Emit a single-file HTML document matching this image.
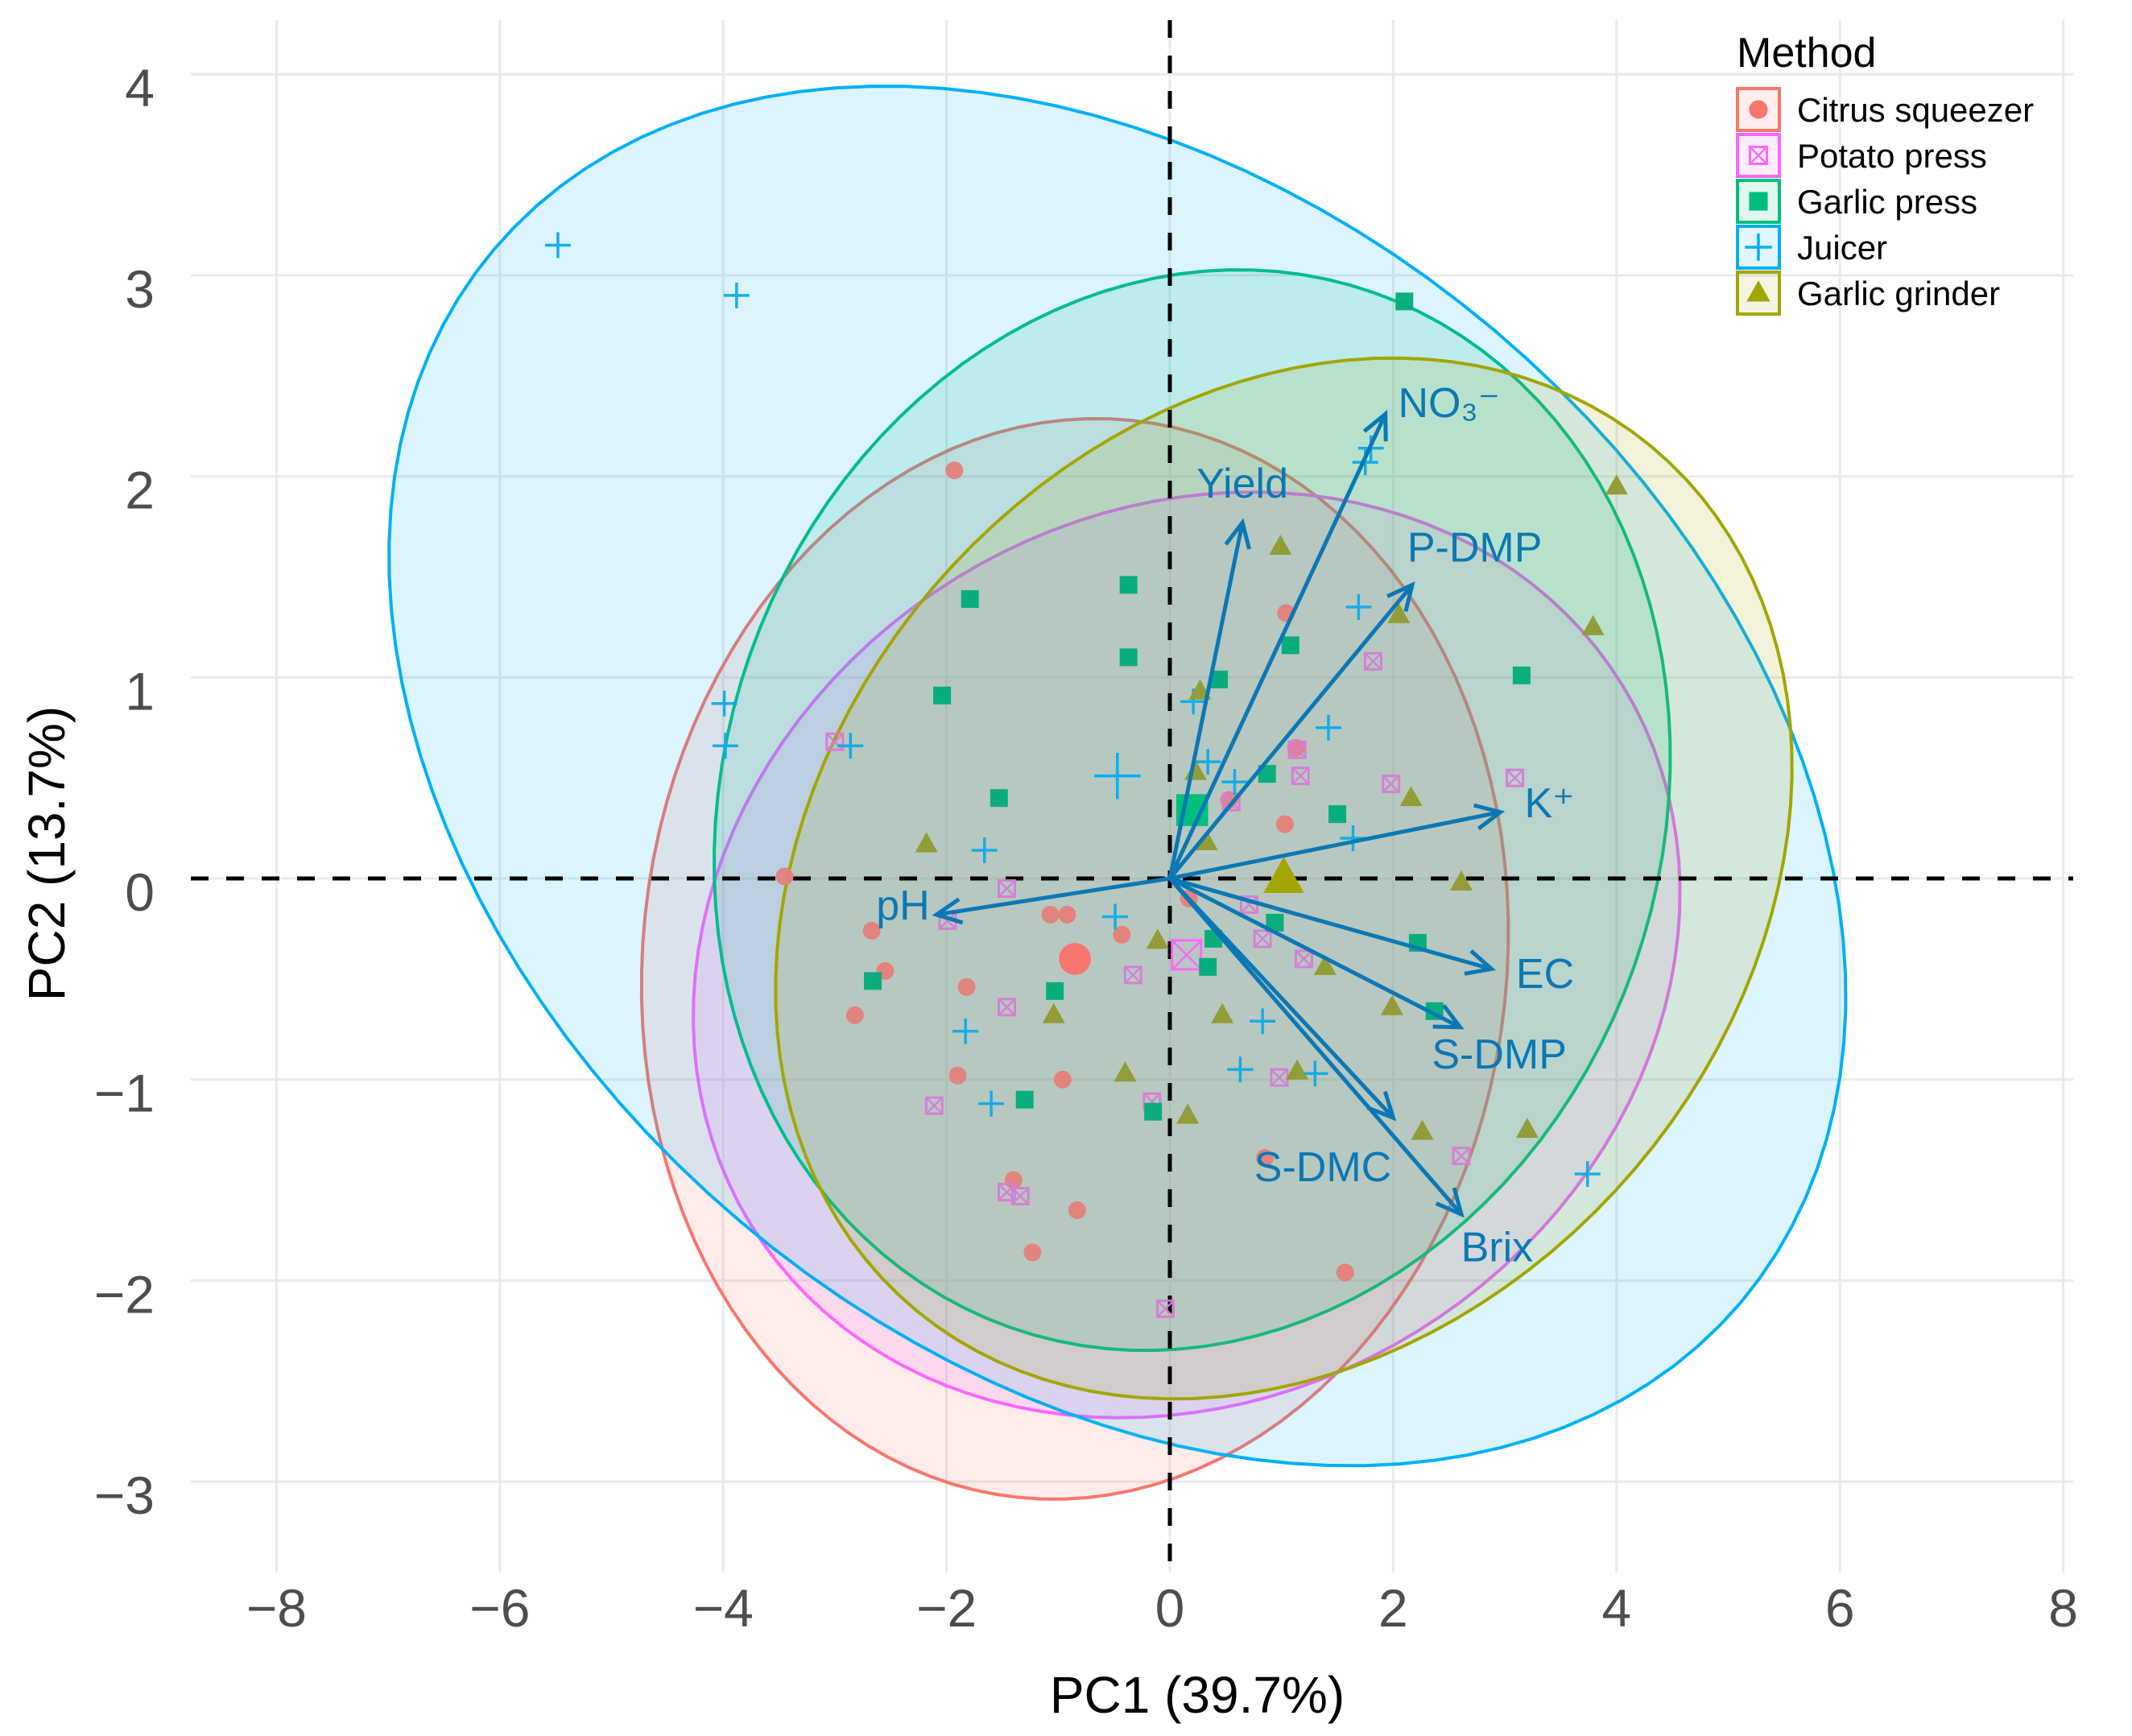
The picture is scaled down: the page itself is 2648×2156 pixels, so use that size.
<!DOCTYPE html>
<html><head><meta charset="utf-8"><style>
html,body{margin:0;padding:0;background:#fff}
svg{display:block;font-family:"Liberation Sans",Arial,sans-serif}
</style></head><body>
<svg id="chart" width="2648" height="2156" viewBox="0 0 2648 2156" xmlns="http://www.w3.org/2000/svg">
<g id="grid"></g>
<g id="ellipses"></g>
<g id="refs"></g>
<g id="points"></g>
<g id="arrows"></g>
<g id="axes"></g>
<g id="legend"></g>
</svg>
<script>
const xTicks=[-8,-6,-4,-2,0,2,4,6,8];
const yTicks=[4,3,2,1,0,-1,-2,-3];
const groups=["Citrus squeezer","Potato press","Garlic press","Juicer","Garlic grinder"];
const colors=["#F8766D","#FF66FF","#00BF7D","#00B0F6","#A3A500"];
const shapes=["circle","boxx","square","plus","triangle"];
const centers=[[-0.85,-0.40],[0.15,-0.38],[0.2,0.34],[-0.47,0.51],[1.02,0.0]];
const ellU=[[3.88,0.2],[4.4,0.1],[4.28,0.2],[5.75,-2.5],[4.55,0.5]];
const ellV=[[-0.1,2.68],[0.4,2.3],[0.1,2.68],[3.08,2.35],[0.1,2.54]];
const citrusPts=[[-1.93,2.03],[1.04,1.32],[1.13,0.65],[0.53,0.39],[1.03,0.27],[-3.45,0.01],[-2.67,-0.26],[-2.55,-0.46],[-2.82,-0.68],[-1.82,-0.54],[-1.07,-0.18],[-0.92,-0.18],[-0.43,-0.28],[-1.9,-0.98],[-0.96,-1.0],[-1.4,-1.5],[-0.83,-1.65],[-1.23,-1.86],[0.85,-1.39],[1.57,-1.96],[0.17,-0.1]];
const potatoPts=[[-3.0,0.68],[1.82,1.08],[1.14,0.64],[1.17,0.51],[0.55,0.38],[1.98,0.47],[3.09,0.5],[-1.46,-0.05],[-1.99,-0.21],[-1.46,-0.64],[-0.33,-0.48],[0.71,-0.13],[0.83,-0.3],[1.2,-0.4],[0.98,-0.99],[-0.16,-1.11],[-2.11,-1.13],[-1.46,-1.56],[-1.34,-1.58],[2.61,-1.38],[-0.04,-2.14]];
const garlicPressPts=[[2.1,2.87],[-1.79,1.39],[-0.37,1.46],[-0.37,1.1],[0.44,0.99],[1.08,1.16],[-2.04,0.91],[-1.53,0.4],[0.87,0.52],[1.5,0.32],[3.15,1.01],[-2.66,-0.51],[-1.03,-0.56],[-1.3,-1.1],[0.39,-0.3],[0.34,-0.44],[0.94,-0.22],[2.22,-0.32],[2.37,-0.66],[-0.15,-1.16]];
const juicerPts=[[-5.48,3.15],[-3.88,2.9],[-3.99,0.87],[-3.98,0.66],[-2.86,0.66],[-1.66,0.14],[1.75,2.07],[1.8,2.14],[1.69,1.35],[0.21,0.88],[0.34,0.58],[1.42,0.75],[0.58,0.48],[1.64,0.2],[-0.49,-0.19],[-1.83,-0.76],[-1.6,-1.12],[0.83,-0.71],[0.63,-0.95],[1.3,-0.97],[3.74,-1.47]];
const grinderPts=[[4.0,1.95],[0.99,1.65],[2.05,1.31],[3.79,1.25],[0.27,0.93],[0.23,0.53],[2.16,0.4],[0.33,0.18],[-2.18,0.17],[2.61,-0.02],[-0.11,-0.31],[1.39,-0.44],[0.47,-0.68],[1.99,-0.64],[-1.04,-0.68],[1.14,-0.96],[-0.4,-0.97],[0.16,-1.18],[2.26,-1.26],[3.2,-1.25]];
const arrowNames=["pH","Yield","NO₃⁻","P-DMP","K⁺","EC","S-DMP","S-DMC","Brix"];
const arrowX=[-2.09,0.65,1.93,2.17,2.96,2.88,2.6,2.0,2.61];
const arrowY=[-0.18,1.77,2.31,1.46,0.33,-0.45,-0.74,-1.19,-1.67];
const labelX=[-2.39,0.65,2.5,2.73,3.4,3.36,2.95,1.37,2.93];
const labelY=[-0.15,1.95,2.35,1.63,0.36,-0.49,-0.89,-1.45,-1.85];

const NS="http://www.w3.org/2000/svg";
const X0=1453,XU=138.7,Y0=1091,YU=249.7;
const sx=v=>X0+XU*v, sy=v=>Y0-YU*v;
function mk(tag,attrs,parent){const e=document.createElementNS(NS,tag);for(const k in attrs)e.setAttribute(k,attrs[k]);parent.appendChild(e);return e;}
const G=id=>document.getElementById(id);

// grid
xTicks.forEach(t=>{const l=mk('line',{x1:sx(t),x2:sx(t),y1:25,y2:1953,stroke:'#EBEBEB','stroke-width':3},G('grid'));

});
yTicks.forEach(t=>{const l=mk('line',{x1:237,x2:2575,y1:sy(t),y2:sy(t),stroke:'#EBEBEB','stroke-width':3},G('grid'));

});

// ellipses
groups.forEach((g,i)=>{let pts=[];for(let k=0;k<120;k++){const a=k/120*2*Math.PI;const x=centers[i][0]+ellU[i][0]*Math.cos(a)+ellV[i][0]*Math.sin(a);const y=centers[i][1]+ellU[i][1]*Math.cos(a)+ellV[i][1]*Math.sin(a);pts.push(sx(x).toFixed(1)+','+sy(y).toFixed(1));}
const p=mk('polygon',{points:pts.join(' '),fill:colors[i],'fill-opacity':0.14,stroke:colors[i],'stroke-width':4},G('ellipses'));

});

// reference lines
{const a=mk('line',{x1:sx(0),x2:sx(0),y1:25,y2:1953,stroke:'#000','stroke-width':5,'stroke-dasharray':'22 22'},G('refs'));


const b=mk('line',{x1:237,x2:2575,y1:sy(0),y2:sy(0),stroke:'#000','stroke-width':5,'stroke-dasharray':'22 22'},G('refs'));

}

function marker(shape,color,x,y,s,parent,op){const g=mk('g',{opacity:op},parent);
if(shape==='circle')mk('circle',{cx:x,cy:y,r:11*s,fill:color},g);
else if(shape==='square')mk('rect',{x:x-11*s,y:y-11*s,width:22*s,height:22*s,fill:color},g);
else if(shape==='triangle')mk('polygon',{points:`${x},${y-15*s} ${x+14*s},${y+10*s} ${x-14*s},${y+10*s}`,fill:color},g);
else if(shape==='plus'){mk('line',{x1:x-16*s,x2:x+16*s,y1:y,y2:y,stroke:color,'stroke-width':3.5},g);mk('line',{x1:x,x2:x,y1:y-16*s,y2:y+16*s,stroke:color,'stroke-width':3.5},g);}
else {mk('rect',{x:x-10*s,y:y-10*s,width:20*s,height:20*s,fill:'none',stroke:color,'stroke-width':3},g);mk('path',{d:`M${x-10*s},${y-10*s}L${x+10*s},${y+10*s}M${x+10*s},${y-10*s}L${x-10*s},${y+10*s}`,stroke:color,'stroke-width':2.5},g);}
return g;}
const allPts=[citrusPts,potatoPts,garlicPressPts,juicerPts,grinderPts];
const ptColors=["#E57F7A","#D77DD9","#00AC7A","#0EABE8","#8F9A30"];
allPts.forEach((arr,i)=>{arr.forEach(d=>{const m=marker(shapes[i],ptColors[i],sx(d[0]),sy(d[1]),1,G('points'),0.95);

});
const c=marker(shapes[i],colors[i],sx(centers[i][0]),sy(centers[i][1]),1.8,G('points'),1);

});

// arrows
const AC="#0B78B4";
arrowNames.forEach((n,i)=>{const x1=sx(0),y1=sy(0),x2=sx(arrowX[i]),y2=sy(arrowY[i]);const g=mk('g',{},G('arrows'));


mk('line',{x1,y1,x2,y2,stroke:AC,'stroke-width':5},g);
const ang=Math.atan2(y2-y1,x2-x1),L=34,w=0.45;
mk('polyline',{points:`${x2-L*Math.cos(ang-w)},${y2-L*Math.sin(ang-w)} ${x2},${y2} ${x2-L*Math.cos(ang+w)},${y2-L*Math.sin(ang+w)}`,fill:'none',stroke:AC,'stroke-width':5},g);
const t=mk('text',{x:sx(labelX[i]),y:sy(labelY[i]),fill:AC,'font-size':52,'text-anchor':'middle','dominant-baseline':'middle'},G('arrows'));t.textContent=n;

});

// axes labels
xTicks.forEach(t=>{const e=mk('text',{x:sx(t),y:2020,'font-size':66,fill:'#4D4D4D','text-anchor':'middle'},G('axes'));e.textContent=(t<0?'−':'')+Math.abs(t);

});
yTicks.forEach(t=>{const e=mk('text',{x:192,y:sy(t)+40,'font-size':66,fill:'#4D4D4D','text-anchor':'end'},G('axes'));e.textContent=(t<0?'−':'')+Math.abs(t);

});
{const e=mk('text',{x:1487,y:2127,'font-size':64,fill:'#000','text-anchor':'middle'},G('axes'));e.textContent='PC1 (39.7%)';


const f=mk('text',{x:80,y:1060,'font-size':64,fill:'#000','text-anchor':'middle',transform:'rotate(-90 80 1060)'},G('axes'));f.textContent='PC2 (13.7%)';

}

// legend
{const t=mk('text',{x:2157,y:83,'font-size':52,fill:'#000'},G('legend'));t.textContent='Method';


groups.forEach((g,i)=>{const y=110+i*57;const e=mk('g',{},G('legend'));


mk('rect',{x:2158,y:y,width:52,height:52,fill:colors[i],'fill-opacity':0.12,stroke:colors[i],'stroke-width':4},e);
marker(shapes[i],colors[i],2184,y+26,1.05,e,1);
const l=mk('text',{x:2232,y:y+41,'font-size':42,fill:'#000'},e);l.textContent=g;});}
</script>
</body></html>
